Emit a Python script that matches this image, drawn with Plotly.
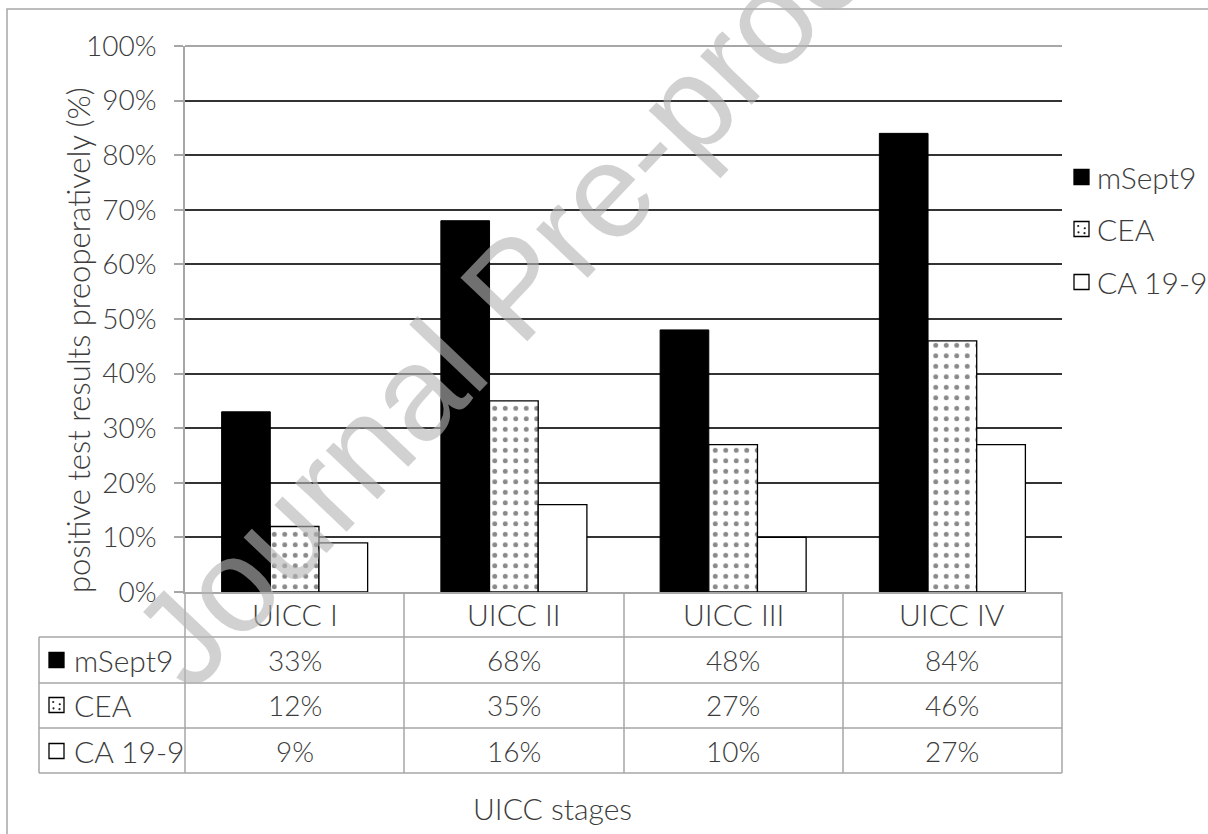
import plotly.graph_objects as go

# Share of positive preoperative test results per UICC stage (%)
stages = ["UICC I", "UICC II", "UICC III", "UICC IV"]
msept9 = [33, 68, 48, 84]
cea = [12, 35, 27, 46]
ca199 = [9, 16, 10, 27]
series_names = ["mSept9", "CEA", "CA 19-9"]
y_ticks = [0, 10, 20, 30, 40, 50, 60, 70, 80, 90, 100]
y_tick_labels = [f"{t}%" for t in y_ticks]

W, H = 1208, 834
# plot-area box in pixels
L, R, T, B = 185, 1062, 46, 592

FONT = "Lato"
TXT = "#3c3c3c"
GRID = "#333333"
LINE = "#a6a6a6"
FS_NUM = 28
FS_WORD = 30


def px(xp):
    return (xp - L) / (R - L)


def py(yp):
    return (B - yp) / (B - T)


dot_pattern = dict(shape=".", fgcolor="#111111", bgcolor="white", size=10.5, solidity=0.17)
series_styles = [
    dict(color="black", line=dict(color="black", width=1)),
    dict(color="white", pattern=dot_pattern, line=dict(color="black", width=1.3)),
    dict(color="white", line=dict(color="black", width=1.3)),
]

fig = go.Figure()
for name, vals, style in zip(series_names, [msept9, cea, ca199], series_styles):
    fig.add_trace(go.Bar(name=name, x=stages, y=vals, marker=style, showlegend=False))

shapes = []
# outer chart frame
shapes.append(dict(type="rect", xref="paper", yref="paper",
                   x0=px(7), x1=px(1230), y0=py(9), y1=py(860),
                   line=dict(color=LINE, width=1.5), fillcolor="rgba(0,0,0,0)"))
# lighter line along the top of the plot area
shapes.append(dict(type="line", xref="paper", yref="paper", layer="above",
                   x0=0, x1=1, y0=1, y1=1, line=dict(color="#8a8a8a", width=1.6)))

# data table grid
row_edges = [637, 683, 728, 773]
col_edges = [185, 404, 624, 843, 1062]
for ry in row_edges:
    shapes.append(dict(type="line", xref="paper", yref="paper",
                       x0=px(39), x1=px(1062), y0=py(ry), y1=py(ry),
                       line=dict(color=LINE, width=1.5)))
for cx in col_edges:
    shapes.append(dict(type="line", xref="paper", yref="paper",
                       x0=px(cx), x1=px(cx), y0=py(592), y1=py(773),
                       line=dict(color=LINE, width=1.5)))
shapes.append(dict(type="line", xref="paper", yref="paper",
                   x0=px(39), x1=px(39), y0=py(637), y1=py(773),
                   line=dict(color=LINE, width=1.5)))


def add_key(kind, x0, yc, size=15):
    """Small series swatch: solid, dotted or hollow square."""
    fill = "black" if kind == 0 else "white"
    shapes.append(dict(type="rect", xref="paper", yref="paper",
                       x0=px(x0), x1=px(x0 + size), y0=py(yc - size / 2), y1=py(yc + size / 2),
                       line=dict(color="black", width=1.3), fillcolor=fill))
    if kind == 1:
        for fx, fy in [(0.28, 0.3), (0.72, 0.45), (0.3, 0.72), (0.7, 0.78)]:
            cx, cy = x0 + fx * size, yc - size / 2 + fy * size
            shapes.append(dict(type="circle", xref="paper", yref="paper",
                               x0=px(cx - 1.1), x1=px(cx + 1.1), y0=py(cy - 1.1), y1=py(cy + 1.1),
                               line=dict(width=0), fillcolor="#222222"))


annotations = []
num_font = dict(family=FONT, size=FS_NUM, color=TXT, weight=300)
word_font = dict(family=FONT, size=FS_WORD, color=TXT, weight=300)


def label(x, y, text, font, xref="paper", xanchor="center", angle=0):
    return dict(x=x, xref=xref, y=y, yref="paper", text=text, showarrow=False,
                xanchor=xanchor, yanchor="middle", textangle=angle, font=font)


# table: column headers, values, row keys and labels
row_centers = [660, 705, 751]
for s in stages:
    annotations.append(label(s, py(614), s, word_font, xref="x"))
for vals, rc in zip([msept9, cea, ca199], row_centers):
    for s, v in zip(stages, vals):
        annotations.append(label(s, py(rc), f"{v}%", num_font, xref="x"))
for i, (name, rc) in enumerate(zip(series_names, row_centers)):
    add_key(i, 49, rc)
    annotations.append(label(px(72), py(rc), name, word_font, xanchor="left"))

# legend at the right
legend_centers = [177, 229, 282]
for i, (name, yc) in enumerate(zip(series_names, legend_centers)):
    add_key(i, 1074, yc)
    annotations.append(label(px(1095), py(yc), name, word_font, xanchor="left"))

# axis titles
annotations.append(label(px(552), py(808), "UICC stages", word_font))
annotations.append(label(px(78), py(340), "positive test results preoperatively (%)",
                         dict(family=FONT, size=31, color=TXT, weight=300), angle=-90))

# watermark over the chart
annotations.append(dict(x=px(514), xref="paper", y=py(287), yref="paper",
                        text="Journal Pre-proof", textangle=-46.5, showarrow=False,
                        xanchor="center", yanchor="middle",
                        font=dict(family="Liberation Sans, Arial", size=134,
                                  color="rgba(180,180,180,0.62)")))

fig.update_layout(
    width=W, height=H,
    margin=dict(l=L, r=W - R, t=T, b=H - B, pad=0),
    paper_bgcolor="white", plot_bgcolor="white",
    barmode="group", bargap=0.334, bargroupgap=0,
    font=dict(family=FONT, size=FS_NUM, color=TXT, weight=300),
    showlegend=False,
    xaxis=dict(range=[-0.5, 3.5], showticklabels=False, ticks="", showgrid=False,
               showline=True, linecolor=LINE, linewidth=1.5, zeroline=False, fixedrange=True),
    yaxis=dict(range=[0, 100], tickvals=y_ticks, ticktext=y_tick_labels,
               showgrid=True, gridcolor=GRID, gridwidth=1.5,
               showline=True, linecolor=LINE, linewidth=1.5,
               ticks="outside", ticklen=9, tickcolor=LINE, tickwidth=1.5,
               ticklabelstandoff=12, zeroline=False, tickfont=num_font),
    shapes=shapes,
    annotations=annotations,
)

fig.write_html("out.html")
